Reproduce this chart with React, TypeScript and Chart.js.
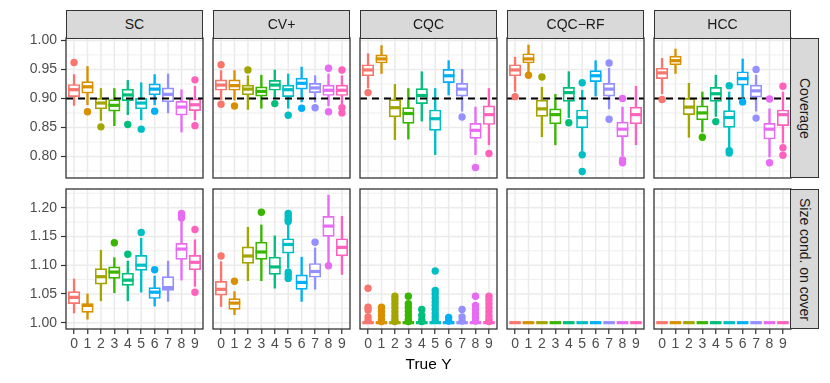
import React, { useEffect, useRef } from 'react';
import { Chart, registerables } from 'chart.js';

Chart.register(...registerables);
Chart.defaults.font.family = '"Liberation Sans", Arial, Helvetica, sans-serif';

// ---------------- data ----------------
const CATEGORIES = ['0', '1', '2', '3', '4', '5', '6', '7', '8', '9'];
const COLORS = ['#F8766D', '#D89000', '#A3A500', '#39B600', '#00BF7D', '#00BFC4', '#00B0F6', '#9590FF', '#E76BF3', '#FF62BC'];
const METHODS = ['SC', 'CV+', 'CQC', 'CQC\u2212RF', 'HCC'];
const ROW_LABELS = ['Coverage', 'Size cond. on cover'];
const X_TITLE = 'True Y';
const COVERAGE_TICKS = [0.8, 0.85, 0.9, 0.95, 1.0];
const SIZE_TICKS = [1.0, 1.05, 1.1, 1.15, 1.2];
const TARGET_COVERAGE = 0.9;

// box stats: [lower whisker, Q1, median, Q3, upper whisker]
const covSC = [
  [0.888, 0.903, 0.915, 0.924, 0.941], [0.889, 0.909, 0.92, 0.929, 0.955], [0.862, 0.882, 0.892, 0.9, 0.917],
  [0.853, 0.878, 0.888, 0.898, 0.917], [0.872, 0.896, 0.906, 0.916, 0.931], [0.863, 0.882, 0.892, 0.9, 0.927],
  [0.889, 0.906, 0.916, 0.925, 0.941], [0.875, 0.894, 0.907, 0.918, 0.942], [0.842, 0.871, 0.885, 0.895, 0.915],
  [0.863, 0.879, 0.889, 0.899, 0.921],
];
const covSCOut = [[0.962], [0.877], [0.851], [], [0.855], [0.847], [0.878], [], [], [0.932, 0.853]];

const covCV = [
  [0.898, 0.914, 0.923, 0.932, 0.948], [0.897, 0.914, 0.922, 0.932, 0.948], [0.881, 0.906, 0.916, 0.923, 0.939],
  [0.883, 0.904, 0.912, 0.92, 0.94], [0.9, 0.914, 0.923, 0.931, 0.949], [0.883, 0.903, 0.915, 0.923, 0.942],
  [0.894, 0.916, 0.926, 0.935, 0.954], [0.894, 0.91, 0.918, 0.926, 0.939], [0.887, 0.905, 0.914, 0.923, 0.942],
  [0.89, 0.905, 0.914, 0.923, 0.939],
];
const covCVOut = [[0.958, 0.89], [0.887], [0.949], [], [0.891], [0.871], [0.883], [0.884], [0.952, 0.877], [0.949, 0.884, 0.875]];

const covCQC = [
  [0.918, 0.939, 0.949, 0.958, 0.977], [0.943, 0.961, 0.968, 0.975, 0.991], [0.829, 0.868, 0.884, 0.898, 0.924],
  [0.83, 0.857, 0.874, 0.884, 0.917], [0.861, 0.891, 0.905, 0.917, 0.946], [0.803, 0.845, 0.865, 0.88, 0.917],
  [0.906, 0.927, 0.939, 0.95, 0.965], [0.878, 0.904, 0.916, 0.926, 0.95], [0.803, 0.831, 0.845, 0.857, 0.885],
  [0.82, 0.855, 0.872, 0.887, 0.917],
];
const covCQCOut = [[0.91], [], [], [], [], [], [], [0.868], [0.781], [0.805]];

const covRF = [
  [0.912, 0.939, 0.949, 0.958, 0.971], [0.946, 0.961, 0.968, 0.977, 0.992], [0.834, 0.869, 0.882, 0.897, 0.919],
  [0.82, 0.856, 0.872, 0.882, 0.907], [0.867, 0.895, 0.91, 0.919, 0.946], [0.81, 0.849, 0.867, 0.88, 0.914],
  [0.904, 0.929, 0.939, 0.948, 0.965], [0.882, 0.904, 0.916, 0.926, 0.952], [0.801, 0.834, 0.847, 0.859, 0.885],
  [0.82, 0.856, 0.872, 0.885, 0.921],
];
const covRFOut = [[0.903], [0.94], [0.937], [], [0.858], [0.927, 0.803, 0.774], [], [0.961, 0.864], [0.9, 0.794, 0.789], []];

const covHCC = [
  [0.908, 0.934, 0.944, 0.952, 0.969], [0.943, 0.958, 0.965, 0.973, 0.985], [0.833, 0.872, 0.885, 0.9, 0.926],
  [0.842, 0.863, 0.875, 0.887, 0.911], [0.869, 0.895, 0.908, 0.919, 0.94], [0.815, 0.85, 0.867, 0.879, 0.911],
  [0.902, 0.923, 0.934, 0.946, 0.968], [0.878, 0.902, 0.913, 0.923, 0.94], [0.799, 0.83, 0.847, 0.857, 0.882],
  [0.823, 0.853, 0.872, 0.88, 0.911],
];
const covHCCOut = [[0.898], [], [], [0.833], [0.86], [0.922, 0.81, 0.806], [0.894], [0.95, 0.866], [0.899, 0.789], [0.921, 0.815, 0.802]];

const sizeSC = [
  [1.017, 1.033, 1.044, 1.054, 1.076], [1.006, 1.018, 1.03, 1.033, 1.05], [1.038, 1.067, 1.08, 1.094, 1.126],
  [1.052, 1.077, 1.088, 1.097, 1.113], [1.038, 1.065, 1.074, 1.086, 1.107], [1.053, 1.091, 1.1, 1.117, 1.147],
  [1.029, 1.042, 1.053, 1.061, 1.081], [1.037, 1.056, 1.061, 1.08, 1.107], [1.074, 1.11, 1.128, 1.138, 1.176],
  [1.063, 1.092, 1.105, 1.117, 1.144],
];
const sizeSCOut = [[], [], [], [1.139], [1.119], [1.157], [1.092], [], [1.19, 1.186, 1.182], [1.162, 1.053]];

const sizeCV = [
  [1.028, 1.048, 1.058, 1.072, 1.106], [1.014, 1.023, 1.034, 1.042, 1.054], [1.073, 1.103, 1.116, 1.132, 1.166],
  [1.073, 1.11, 1.123, 1.14, 1.17], [1.06, 1.084, 1.097, 1.114, 1.151], [1.095, 1.121, 1.136, 1.146, 1.17],
  [1.037, 1.058, 1.07, 1.083, 1.114], [1.058, 1.079, 1.089, 1.103, 1.13], [1.105, 1.15, 1.168, 1.185, 1.222],
  [1.084, 1.116, 1.131, 1.146, 1.185],
];
const sizeCVOut = [[1.116], [1.072], [], [1.192], [], [1.19, 1.185, 1.18, 1.176, 1.088, 1.083, 1.077], [], [1.14], [1.099], []];

const sizeCQC = [
  [1, 1, 1, 1, 1], [1, 1, 1, 1, 1], [1, 1, 1, 1, 1], [1, 1, 1, 1, 1], [1, 1, 1, 1, 1],
  [1, 1, 1, 1, 1], [1, 1, 1, 1, 1], [1, 1, 1, 1, 1], [1, 1, 1, 1, 1], [1, 1, 1, 1, 1],
];
const sizeCQCOut = [
  [1.06, 1.027, 1.022, 1.01, 1.004],
  [1.027, 1.02, 1.013, 1.006, 1.002],
  [1.046, 1.04, 1.033, 1.026, 1.019, 1.012, 1.006, 1.002],
  [1.046, 1.033, 1.027, 1.02, 1.013, 1.006, 1.002],
  [1.023, 1.013, 1.005, 1.002],
  [1.09, 1.056, 1.05, 1.043, 1.036, 1.03, 1.023, 1.016, 1.01, 1.004],
  [1.009, 1.003],
  [1.023, 1.01, 1.003],
  [1.046, 1.03, 1.023, 1.016, 1.009, 1.003],
  [1.046, 1.04, 1.033, 1.026, 1.019, 1.012, 1.006, 1.002],
];
const sizeRF = [
  [1, 1, 1, 1, 1], [1, 1, 1, 1, 1], [1, 1, 1, 1, 1], [1, 1, 1, 1, 1], [1, 1, 1, 1, 1],
  [1, 1, 1, 1, 1], [1, 1, 1, 1, 1], [1, 1, 1, 1, 1], [1, 1, 1, 1, 1], [1, 1, 1, 1, 1],
];
const sizeRFOut = [[], [], [], [], [], [], [], [], [], []];
const sizeHCC = [
  [1, 1, 1, 1, 1], [1, 1, 1, 1, 1], [1, 1, 1, 1, 1], [1, 1, 1, 1, 1], [1, 1, 1, 1, 1],
  [1, 1, 1, 1, 1], [1, 1, 1, 1, 1], [1, 1, 1, 1, 1], [1, 1, 1, 1, 1], [1, 1, 1, 1, 1],
];
const sizeHCCOut = [[], [], [], [], [], [], [], [], [], []];

const PANELS = [
  [[covSC, covSCOut], [covCV, covCVOut], [covCQC, covCQCOut], [covRF, covRFOut], [covHCC, covHCCOut]],
  [[sizeSC, sizeSCOut], [sizeCV, sizeCVOut], [sizeCQC, sizeCQCOut], [sizeRF, sizeRFOut], [sizeHCC, sizeHCCOut]],
];

// ---------------- layout / style ----------------
const Y_RANGES = [[0.7628, 1.0041], [0.989, 1.2325]];
const X_RANGE = [-0.6, 9.6];
const PANEL_LEFT = 66;
const PANEL_STEP = 147;
const PANEL_W = 137;
const PANEL_H = 140;
const ROW_TOP = [38, 189];
const STRIP_TOP = 10;
const STRIP_H = 28;
const RIGHT_STRIP_W = 29;
const TOTAL_H = 383;
const GRID = '#EBEBEB';
const DARK = '#333333';
const TICK_TEXT = '#4D4D4D';
const FONT = '"Liberation Sans", Arial, Helvetica, sans-serif';

const borderPlugin = {
  id: 'panelBorder',
  afterDraw(chart: any) {
    const { ctx, chartArea: a } = chart;
    ctx.save();
    ctx.strokeStyle = DARK;
    ctx.lineWidth = 1.3;
    ctx.strokeRect(a.left, a.top, a.right - a.left, a.bottom - a.top);
    ctx.restore();
  },
};

function zeroPadding(s: any) {
  s.paddingLeft = 0;
  s.paddingRight = 0;
  s.paddingTop = 0;
  s.paddingBottom = 0;
}

function Panel({ row, col }: { row: number; col: number }) {
  const ref = useRef<HTMLCanvasElement>(null);
  const panelX = PANEL_LEFT + col * PANEL_STEP;
  const padL = col === 0 ? 0 : 2;
  const yAxisW = col === 0 ? PANEL_LEFT : 0;
  const left = col === 0 ? 0 : panelX - 2;
  const top = ROW_TOP[row] - 10;
  const xAxisH = row === 1 ? TOTAL_H - (ROW_TOP[1] + PANEL_H) : 0;
  const padB = row === 1 ? 0 : 2;
  const width = yAxisW + padL + PANEL_W + 2;
  const height = 10 + PANEL_H + xAxisH + padB;

  useEffect(() => {
    const [stats, outliers] = PANELS[row][col] as [number[][], number[][]];
    const majors = row === 0 ? COVERAGE_TICKS : SIZE_TICKS;
    const [ymin, ymax] = Y_RANGES[row];
    const step = majors[1] - majors[0];
    const allTicks: number[] = [...majors];
    for (let i = -1; i < majors.length; i++) {
      const v = majors[0] + step * (i + 0.5);
      if (v > ymin && v < ymax) allTicks.push(v);
    }
    allTicks.sort((a, b) => a - b);
    const isMajor = (v: number) => majors.some((t) => Math.abs(t - v) < 1e-9);

    // panel grid drawn from the chart's own scales (major + minor lines)
    const gridPlugin = {
      id: 'panelGrid',
      beforeDatasetsDraw(chart: any) {
        const { ctx, chartArea: a, scales } = chart;
        const xs = scales.x;
        const ys = scales.y;
        ctx.save();
        ctx.strokeStyle = GRID;
        ys.ticks.forEach((t: any) => {
          const py = ys.getPixelForValue(t.value);
          ctx.lineWidth = isMajor(t.value) ? 1.5 : 0.8;
          ctx.beginPath();
          ctx.moveTo(a.left, py);
          ctx.lineTo(a.right, py);
          ctx.stroke();
        });
        ctx.lineWidth = 1.5;
        xs.ticks.forEach((t: any) => {
          const px = xs.getPixelForValue(t.value);
          ctx.beginPath();
          ctx.moveTo(px, a.top);
          ctx.lineTo(px, a.bottom);
          ctx.stroke();
        });
        ctx.restore();
      },
    };

    const outPts: { x: number; y: number }[] = [];
    const outCols: string[] = [];
    outliers.forEach((arr, i) =>
      arr.forEach((v) => {
        outPts.push({ x: i, y: v });
        outCols.push(COLORS[i]);
      })
    );

    const datasets: any[] = [
      {
        type: 'bar',
        data: stats.map((s, i) => ({ x: i, y: [s[0], s[4]] })),
        backgroundColor: COLORS,
        borderWidth: 0,
        grouped: false,
        barPercentage: 1,
        categoryPercentage: 1,
        maxBarThickness: 1.7,
        order: 4,
      },
      {
        type: 'bar',
        data: stats.map((s, i) => ({ x: i, y: [s[1], s[3]] })),
        backgroundColor: '#FFFFFF',
        borderColor: COLORS,
        borderWidth: 1.7,
        borderSkipped: false,
        grouped: false,
        barPercentage: 1,
        categoryPercentage: 1,
        maxBarThickness: 11.5,
        order: 3,
      },
      {
        type: 'scatter',
        data: stats.map((s, i) => ({ x: i, y: s[2] })),
        pointStyle: 'line',
        pointRadius: 5.75,
        pointBorderColor: COLORS,
        pointBackgroundColor: COLORS,
        pointBorderWidth: 3.2,
        order: 2,
      },
      {
        type: 'scatter',
        data: outPts,
        pointRadius: 3.7,
        pointBackgroundColor: outCols,
        pointBorderColor: outCols,
        pointBorderWidth: 0,
        order: 0,
      },
    ];
    if (row === 0) {
      datasets.push({
        type: 'line',
        data: [
          { x: X_RANGE[0], y: TARGET_COVERAGE },
          { x: X_RANGE[1], y: TARGET_COVERAGE },
        ],
        borderColor: '#000000',
        borderWidth: 2,
        borderDash: [7, 5],
        pointRadius: 0,
        fill: false,
        order: 1,
      });
    }

    const chart = new Chart(ref.current as HTMLCanvasElement, {
      type: 'bar',
      data: { datasets },
      plugins: [gridPlugin, borderPlugin],
      options: {
        responsive: false,
        animation: false,
        events: [],
        layout: { autoPadding: false, padding: { top: 10, left: padL, right: 2, bottom: padB } },
        plugins: { legend: { display: false }, tooltip: { enabled: false } },
        scales: {
          x: {
            type: 'linear',
            min: X_RANGE[0],
            max: X_RANGE[1],
            offset: false,
            afterBuildTicks: (s: any) => {
              s.ticks = CATEGORIES.map((_, i) => ({ value: i }));
            },
            afterFit: (s: any) => {
              s.height = xAxisH;
              zeroPadding(s);
            },
            grid: {
              display: true,
              drawOnChartArea: false,
              color: GRID,
              lineWidth: 1.5,
              offset: false,
              drawTicks: row === 1,
              tickLength: 5,
              tickColor: DARK,
              tickWidth: 1.2,
            },
            border: { display: false },
            ticks: {
              display: row === 1,
              autoSkip: false,
              maxRotation: 0,
              padding: 2,
              color: TICK_TEXT,
              font: { size: 14 },
              callback: (v: any) => CATEGORIES[Math.round(Number(v))],
            },
            title: {
              display: row === 1 && col === 2,
              text: X_TITLE,
              color: '#000000',
              font: { size: 15.5 },
              padding: { top: 0, bottom: 9 },
            },
          },
          y: {
            type: 'linear',
            min: ymin,
            max: ymax,
            beginAtZero: false,
            afterBuildTicks: (s: any) => {
              s.ticks = allTicks.map((v) => ({ value: v }));
            },
            afterFit: (s: any) => {
              s.width = yAxisW;
              zeroPadding(s);
            },
            grid: {
              display: true,
              drawOnChartArea: false,
              color: GRID,
              drawTicks: col === 0,
              tickLength: 5,
              tickColor: (c: any) => (c.tick && isMajor(c.tick.value) ? DARK : 'rgba(0,0,0,0)'),
              tickWidth: 1.2,
            },
            border: { display: false },
            ticks: {
              display: col === 0,
              autoSkip: false,
              padding: 4,
              color: TICK_TEXT,
              font: { size: 14 },
              callback: (v: any) => (isMajor(Number(v)) ? Number(v).toFixed(2) : ''),
            },
          },
        },
      } as any,
    });
    return () => chart.destroy();
  }, [row, col]);

  return (
    <canvas
      ref={ref}
      width={width}
      height={height}
      style={{ position: 'absolute', left, top, width, height }}
    />
  );
}

export default function App() {
  const stripText: React.CSSProperties = {
    position: 'absolute',
    boxSizing: 'border-box',
    background: '#D9D9D9',
    border: `1.3px solid ${DARK}`,
    display: 'flex',
    alignItems: 'center',
    justifyContent: 'center',
    font: `14px ${FONT}`,
    color: '#1A1A1A',
    zIndex: 2,
  };
  return (
    <div style={{ position: 'absolute', left: 0, top: 0, width: 830, height: TOTAL_H, background: '#FFFFFF', overflow: 'hidden' }}>
      {[0, 1].map((r) => METHODS.map((_, c) => <Panel key={`${r}-${c}`} row={r} col={c} />))}
      {METHODS.map((m, c) => (
        <div
          key={m}
          style={{ ...stripText, left: PANEL_LEFT + c * PANEL_STEP, top: STRIP_TOP, width: PANEL_W, height: STRIP_H + 0.6 }}
        >
          {m}
        </div>
      ))}
      {ROW_LABELS.map((lab, r) => (
        <div
          key={lab}
          style={{
            ...stripText,
            left: PANEL_LEFT + 4 * PANEL_STEP + PANEL_W - 0.6,
            top: ROW_TOP[r],
            width: RIGHT_STRIP_W,
            height: PANEL_H,
            writingMode: 'vertical-rl',
          }}
        >
          {lab}
        </div>
      ))}
    </div>
  );
}
